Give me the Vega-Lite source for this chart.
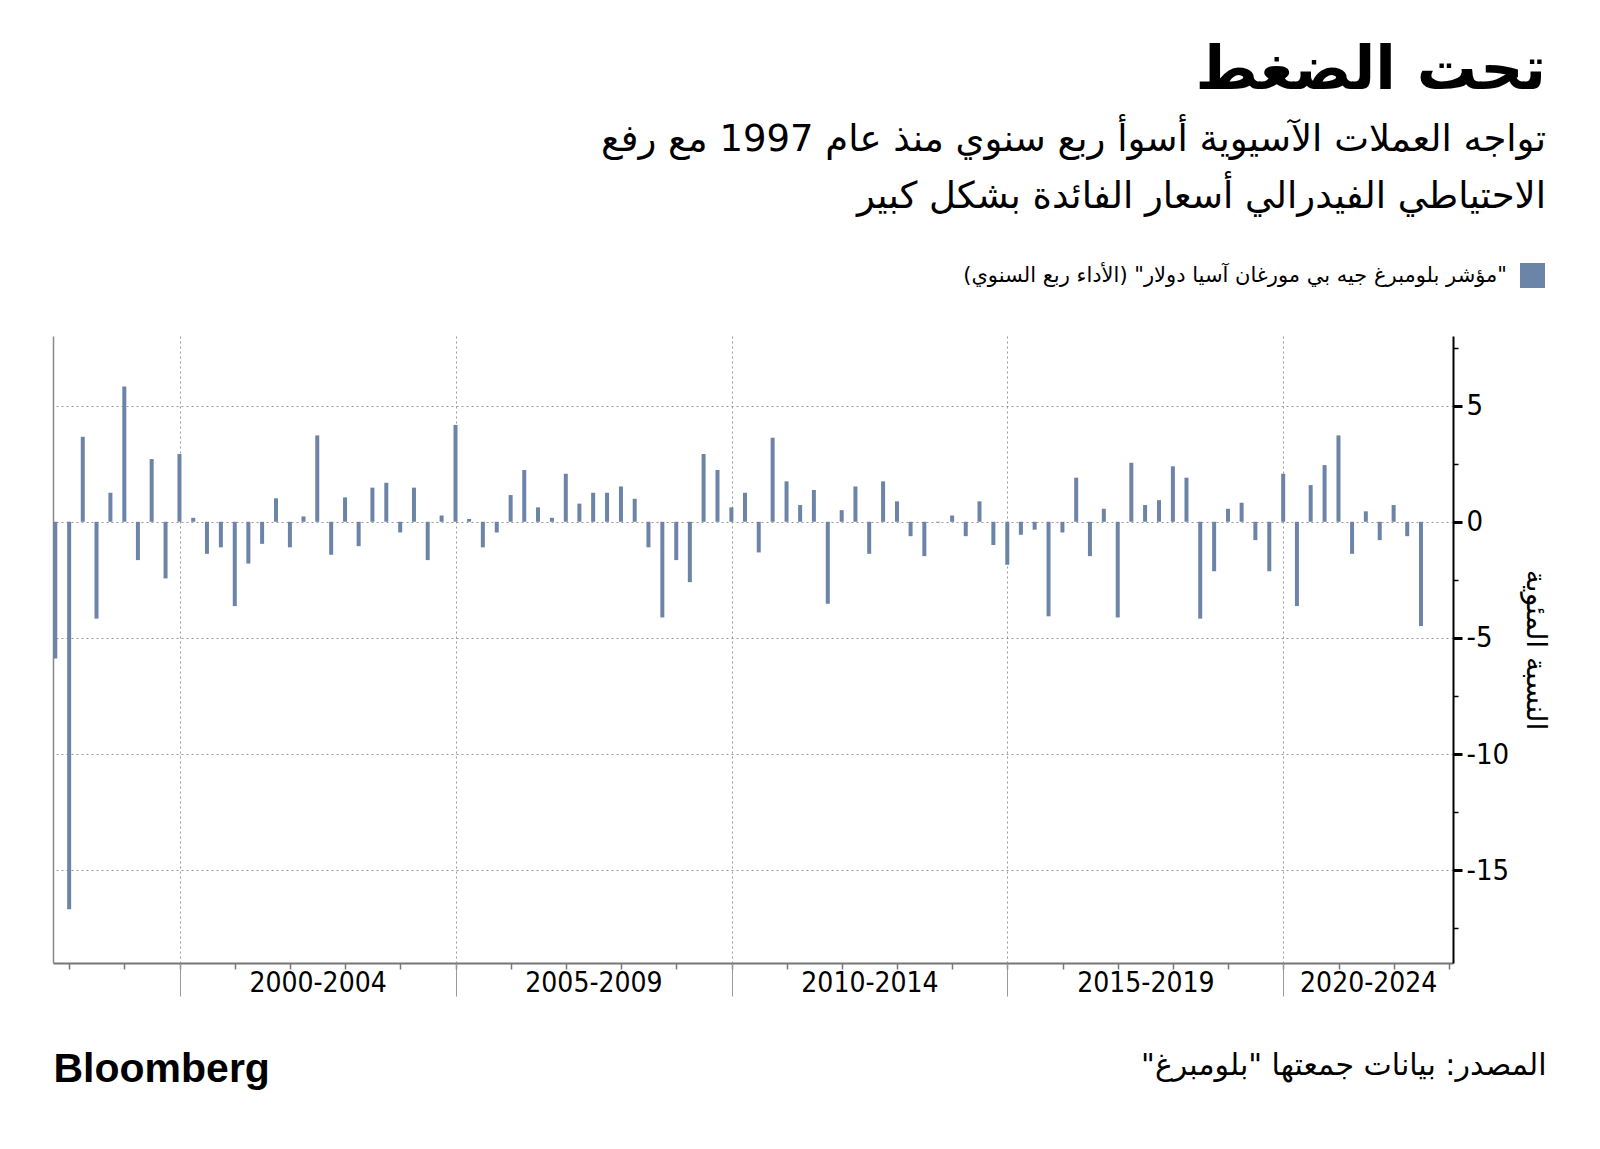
{
  "$schema": "https://vega.github.io/schema/vega-lite/v6.json",
  "width": 1400,
  "height": 627,
  "autosize": {"type": "none"},
  "padding": {"left": 53, "top": 336, "right": 147, "bottom": 186},
  "background": "#ffffff",
  "title": {
    "text": "\u200fتحت الضغط\u200f",
    "subtitle": ["\u200fتواجه العملات الآسيوية أسوأ ربع سنوي منذ عام 1997 مع رفع\u200f", "\u200fالاحتياطي الفيدرالي أسعار الفائدة بشكل كبير\u200f"],
    "anchor": "end",
    "frame": "group",
    "dx": 93,
    "offset": 47,
    "font": "DejaVu Sans",
    "fontSize": 60,
    "fontWeight": "bold",
    "color": "#000000",
    "subtitleFont": "DejaVu Sans",
    "subtitleFontSize": 37,
    "subtitleColor": "#000000",
    "subtitleLineHeight": 57,
    "subtitlePadding": 20
  },
  "data": {
    "values": [
      {"date": "1997-09-30", "value": -5.89},
      {"date": "1997-12-31", "value": -16.69},
      {"date": "1998-03-31", "value": 3.66},
      {"date": "1998-06-30", "value": -4.17},
      {"date": "1998-09-30", "value": 1.25},
      {"date": "1998-12-31", "value": 5.82},
      {"date": "1999-03-31", "value": -1.65},
      {"date": "1999-06-30", "value": 2.70},
      {"date": "1999-09-30", "value": -2.44},
      {"date": "1999-12-31", "value": 2.92},
      {"date": "2000-03-31", "value": 0.17},
      {"date": "2000-06-30", "value": -1.38},
      {"date": "2000-09-30", "value": -1.10},
      {"date": "2000-12-31", "value": -3.63},
      {"date": "2001-03-31", "value": -1.80},
      {"date": "2001-06-30", "value": -0.95},
      {"date": "2001-09-30", "value": 1.01},
      {"date": "2001-12-31", "value": -1.10},
      {"date": "2002-03-31", "value": 0.23},
      {"date": "2002-06-30", "value": 3.72},
      {"date": "2002-09-30", "value": -1.42},
      {"date": "2002-12-31", "value": 1.05},
      {"date": "2003-03-31", "value": -1.05},
      {"date": "2003-06-30", "value": 1.47},
      {"date": "2003-09-30", "value": 1.68},
      {"date": "2003-12-31", "value": -0.46},
      {"date": "2004-03-31", "value": 1.47},
      {"date": "2004-06-30", "value": -1.65},
      {"date": "2004-09-30", "value": 0.27},
      {"date": "2004-12-31", "value": 4.17},
      {"date": "2005-03-31", "value": 0.12},
      {"date": "2005-06-30", "value": -1.10},
      {"date": "2005-09-30", "value": -0.46},
      {"date": "2005-12-31", "value": 1.15},
      {"date": "2006-03-31", "value": 2.23},
      {"date": "2006-06-30", "value": 0.62},
      {"date": "2006-09-30", "value": 0.17},
      {"date": "2006-12-31", "value": 2.07},
      {"date": "2007-03-31", "value": 0.78},
      {"date": "2007-06-30", "value": 1.25},
      {"date": "2007-09-30", "value": 1.25},
      {"date": "2007-12-31", "value": 1.52},
      {"date": "2008-03-31", "value": 0.99},
      {"date": "2008-06-30", "value": -1.10},
      {"date": "2008-09-30", "value": -4.12},
      {"date": "2008-12-31", "value": -1.65},
      {"date": "2009-03-31", "value": -2.60},
      {"date": "2009-06-30", "value": 2.92},
      {"date": "2009-09-30", "value": 2.23},
      {"date": "2009-12-31", "value": 0.62},
      {"date": "2010-03-31", "value": 1.25},
      {"date": "2010-06-30", "value": -1.32},
      {"date": "2010-09-30", "value": 3.62},
      {"date": "2010-12-31", "value": 1.74},
      {"date": "2011-03-31", "value": 0.72},
      {"date": "2011-06-30", "value": 1.37},
      {"date": "2011-09-30", "value": -3.53},
      {"date": "2011-12-31", "value": 0.50},
      {"date": "2012-03-31", "value": 1.52},
      {"date": "2012-06-30", "value": -1.38},
      {"date": "2012-09-30", "value": 1.74},
      {"date": "2012-12-31", "value": 0.88},
      {"date": "2013-03-31", "value": -0.62},
      {"date": "2013-06-30", "value": -1.48},
      {"date": "2013-09-30", "value": -0.03},
      {"date": "2013-12-31", "value": 0.27},
      {"date": "2014-03-31", "value": -0.62},
      {"date": "2014-06-30", "value": 0.88},
      {"date": "2014-09-30", "value": -1.00},
      {"date": "2014-12-31", "value": -1.85},
      {"date": "2015-03-31", "value": -0.56},
      {"date": "2015-06-30", "value": -0.34},
      {"date": "2015-09-30", "value": -4.07},
      {"date": "2015-12-31", "value": -0.46},
      {"date": "2016-03-31", "value": 1.90},
      {"date": "2016-06-30", "value": -1.48},
      {"date": "2016-09-30", "value": 0.56},
      {"date": "2016-12-31", "value": -4.12},
      {"date": "2017-03-31", "value": 2.54},
      {"date": "2017-06-30", "value": 0.72},
      {"date": "2017-09-30", "value": 0.93},
      {"date": "2017-12-31", "value": 2.39},
      {"date": "2018-03-31", "value": 1.90},
      {"date": "2018-06-30", "value": -4.17},
      {"date": "2018-09-30", "value": -2.13},
      {"date": "2018-12-31", "value": 0.56},
      {"date": "2019-03-31", "value": 0.82},
      {"date": "2019-06-30", "value": -0.79},
      {"date": "2019-09-30", "value": -2.13},
      {"date": "2019-12-31", "value": 2.07},
      {"date": "2020-03-31", "value": -3.63},
      {"date": "2020-06-30", "value": 1.58},
      {"date": "2020-09-30", "value": 2.44},
      {"date": "2020-12-31", "value": 3.72},
      {"date": "2021-03-31", "value": -1.38},
      {"date": "2021-06-30", "value": 0.45},
      {"date": "2021-09-30", "value": -0.79},
      {"date": "2021-12-31", "value": 0.72},
      {"date": "2022-03-31", "value": -0.62},
      {"date": "2022-06-30", "value": -4.49}
    ]
  },
  "resolve": {"axis": {"x": "independent", "y": "independent"}},
  "layer": [
    {
      "mark": {"type": "bar", "size": 4},
      "encoding": {
        "x": {
          "field": "date", "type": "temporal",
          "scale": {"domain": [{"year": 1997, "month": 9, "date": 15}, {"year": 2023, "month": 1, "date": 28}], "nice": false, "padding": 0},
          "axis": {
            "orient": "bottom", "title": null, "labels": false, "grid": false,
            "values": [
              {"year": 1998, "month": 1, "date": 1}, {"year": 1999, "month": 1, "date": 1},
              {"year": 2000, "month": 1, "date": 1}, {"year": 2001, "month": 1, "date": 1},
              {"year": 2002, "month": 1, "date": 1}, {"year": 2003, "month": 1, "date": 1},
              {"year": 2004, "month": 1, "date": 1}, {"year": 2005, "month": 1, "date": 1},
              {"year": 2006, "month": 1, "date": 1}, {"year": 2007, "month": 1, "date": 1},
              {"year": 2008, "month": 1, "date": 1}, {"year": 2009, "month": 1, "date": 1},
              {"year": 2010, "month": 1, "date": 1}, {"year": 2011, "month": 1, "date": 1},
              {"year": 2012, "month": 1, "date": 1}, {"year": 2013, "month": 1, "date": 1},
              {"year": 2014, "month": 1, "date": 1}, {"year": 2015, "month": 1, "date": 1},
              {"year": 2016, "month": 1, "date": 1}, {"year": 2017, "month": 1, "date": 1},
              {"year": 2018, "month": 1, "date": 1}, {"year": 2019, "month": 1, "date": 1},
              {"year": 2020, "month": 1, "date": 1}, {"year": 2021, "month": 1, "date": 1},
              {"year": 2022, "month": 1, "date": 1}, {"year": 2023, "month": 1, "date": 1}
            ],
            "ticks": true, "tickSize": 6, "tickColor": "#777777", "tickWidth": 1.5,
            "domain": true, "domainColor": "#777777", "domainWidth": 2
          }
        },
        "y": {
          "field": "value", "type": "quantitative",
          "scale": {"domain": [-19, 8], "nice": false},
          "axis": {
            "orient": "right",
            "values": [-15, -10, -5, 0, 5],
            "grid": true, "gridColor": "#999999", "gridDash": [2, 3], "gridWidth": 1,
            "ticks": true, "tickSize": 9, "tickWidth": 3, "tickColor": "#000000",
            "domain": true, "domainColor": "#000000", "domainWidth": 2,
            "labelExpr": "replace(datum.label, '−', '-')",
            "labelFont": "Liberation Sans Narrow, DejaVu Sans Condensed, sans-serif",
            "labelFontSize": 29, "labelColor": "#000000", "labelPadding": 4,
            "title": "\u200fالنسبة المئوية\u200f",
            "titleFont": "DejaVu Sans", "titleFontSize": 28, "titleFontWeight": "normal",
            "titleColor": "#000000", "titleAngle": 90, "titlePadding": 12
          }
        },
        "color": {
          "datum": "\u200f\"مؤشر بلومبرغ جيه بي مورغان آسيا دولار\" (الأداء ربع السنوي)\u200f",
          "scale": {"range": ["#6b84a8"]},
          "legend": {
            "orient": "none", "legendX": 1467, "legendY": -73,
            "title": null, "symbolType": "square", "symbolSize": 625,
            "symbolStrokeWidth": 0, "symbolOpacity": 1,
            "labelFont": "DejaVu Sans", "labelFontSize": 21, "labelColor": "#000000",
            "labelAlign": "right", "labelOffset": -38, "labelLimit": 0, "padding": 0
          }
        }
      }
    },
    {
      "mark": {"type": "bar", "size": 4, "opacity": 0},
      "encoding": {
        "x": {
          "field": "date", "type": "temporal",
          "axis": {
            "orient": "bottom", "labels": false, "domain": false,
            "values": [
              {"year": 2000, "month": 1, "date": 1}, {"year": 2005, "month": 1, "date": 1},
              {"year": 2010, "month": 1, "date": 1}, {"year": 2015, "month": 1, "date": 1},
              {"year": 2020, "month": 1, "date": 1}
            ],
            "grid": true, "gridColor": "#999999", "gridDash": [2, 3], "gridWidth": 1,
            "ticks": true, "tickSize": 33, "tickColor": "#999999", "tickWidth": 1,
            "title": "\u200fالمصدر: بيانات جمعتها \"بلومبرغ\"\u200f",
            "titleFont": "DejaVu Sans", "titleFontSize": 30, "titleFontWeight": "normal",
            "titleColor": "#000000", "titleAnchor": "start", "titleAlign": "right",
            "titleBaseline": "alphabetic", "titleX": 1493, "titleY": 111
          }
        },
        "y": {
          "field": "value", "type": "quantitative",
          "axis": {
            "orient": "right", "labels": false, "domain": false, "grid": false, "title": null,
            "values": [-17.5, -12.5, -7.5, -2.5, 2.5, 7.5],
            "ticks": true, "tickSize": 5, "tickWidth": 1.5, "tickColor": "#000000"
          }
        }
      }
    },
    {
      "mark": {"type": "bar", "size": 4, "opacity": 0},
      "encoding": {
        "x": {
          "field": "date", "type": "temporal",
          "axis": {
            "orient": "bottom", "domain": false, "grid": false, "ticks": false,
            "values": [
              {"year": 2002, "month": 7, "date": 2}, {"year": 2007, "month": 7, "date": 2},
              {"year": 2012, "month": 7, "date": 2}, {"year": 2017, "month": 7, "date": 2},
              {"year": 2021, "month": 7, "date": 16}
            ],
            "labelExpr": "floor(year(datum.value)/5)*5 + '-' + (floor(year(datum.value)/5)*5 + 4)",
            "labelFont": "Liberation Sans Narrow, DejaVu Sans Condensed, sans-serif",
            "labelFontSize": 28, "labelColor": "#000000", "labelPadding": 6,
            "labelBaseline": "top", "labelAlign": "center",
            "title": "Bloomberg",
            "titleFont": "Liberation Sans, Arial, sans-serif", "titleFontSize": 41, "titleFontWeight": "bold",
            "titleColor": "#000000", "titleAnchor": "start", "titleAlign": "left",
            "titleBaseline": "alphabetic", "titleX": 0, "titleY": 118
          }
        },
        "y": {
          "field": "value", "type": "quantitative",
          "axis": {
            "orient": "left", "labels": false, "ticks": false, "grid": false, "title": null,
            "domain": true, "domainColor": "#888888", "domainWidth": 1.5
          }
        }
      }
    }
  ],
  "config": {
    "view": {"stroke": null},
    "axis": {"zindex": 0}
  }
}
